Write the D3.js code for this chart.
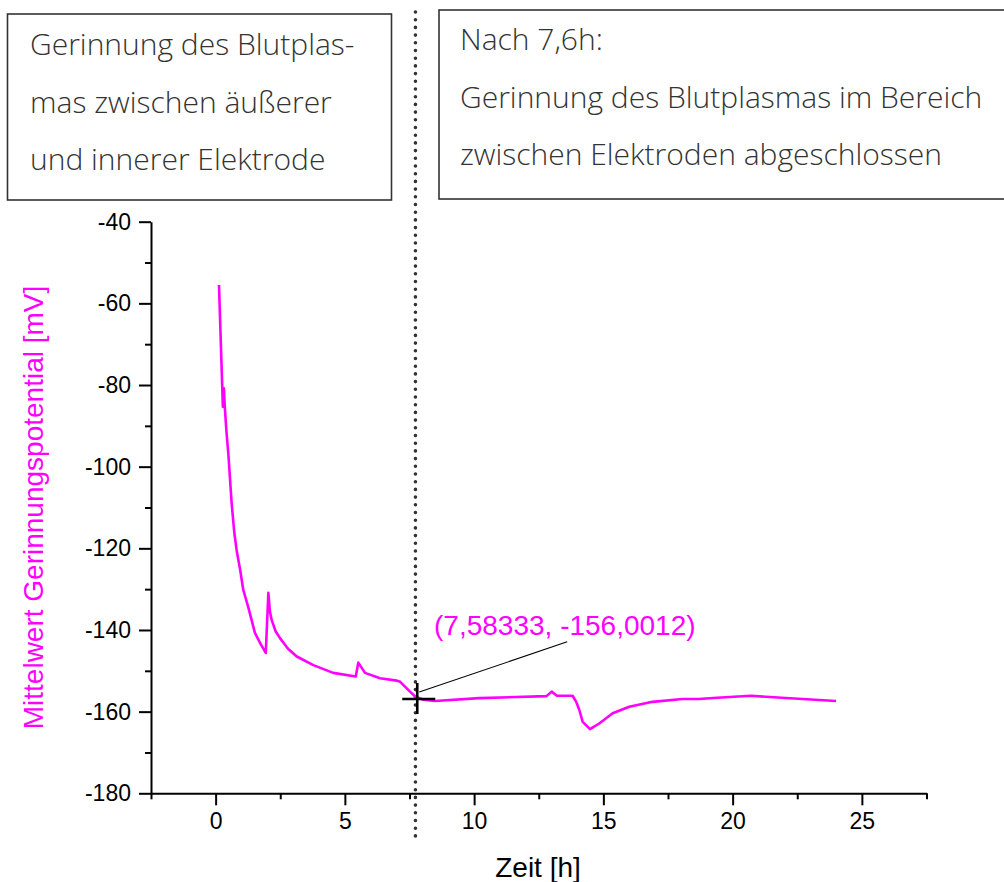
<!DOCTYPE html>
<html>
<head>
<meta charset="utf-8">
<script src="https://cdn.jsdelivr.net/npm/d3@7"></script>
<style>
  body { margin: 0; background: #fff; }
  svg { display: block; }
  .tick text { font-family: "Liberation Sans", Arial, sans-serif; font-size: 23px; fill: #000; }
  .box text { font-family: "Open Sans", "Noto Sans", sans-serif; font-weight: 300; font-size: 30px; fill: #333; }
</style>
</head>
<body>
<script>
// Zeit [h] and Mittelwert Gerinnungspotential [mV]
var zeit = [0.13, 0.28, 0.32, 0.35, 0.42, 0.49, 0.62, 0.72, 0.82, 0.95, 1.07, 1.27, 1.52, 1.75, 1.94, 2.04, 2.1, 2.17, 2.32, 2.49, 2.8,
            3.14, 3.78, 4.55, 5.42, 5.52, 5.78, 6.36, 7.01, 7.14, 7.52, 7.72, 8.04, 8.49,
            10.2, 12.8, 13.0, 13.2, 13.81, 13.95, 14.07, 14.2, 14.48, 14.84, 15.36, 16.0, 16.9,
            18.06, 18.7, 19.4, 20.7, 21.9, 24.0]
var potential = [-55.5, -85.3, -80.8, -85.0, -91.5, -96.7, -109, -116, -120.8, -125.3, -130.2, -134.6, -140.7, -143.5, -145.6, -130.9, -135.5, -137.6, -140.3, -142, -144.6,
                 -146.5, -148.6, -150.5, -151.4, -148, -150.5, -151.8, -152.4, -152.7, -155.1, -156.3, -157.1, -157.4,
                 -156.7, -156.2, -155.1, -156.1, -156.1, -157.6, -159.6, -162.5, -164.3, -162.9, -160.4, -158.8, -157.6,
                 -156.9, -156.9, -156.6, -156.1, -156.6, -157.4]

var xMajor = [0, 5, 10, 15, 20, 25]
var xMinor = [-2.5, 2.5, 7.5, 12.5, 17.5, 22.5, 27.5]
var yMajor = [-180, -160, -140, -120, -100, -80, -60, -40]
var yMinor = [-170, -150, -130, -110, -90, -70, -50]

var cursor = [7.8, -156.9]      // crosshair as drawn
var cursorLabel = '(7,58333, -156,0012)'
var labelPos = [8.45, -141.2]
var leaderEnd = [13.6, -142.9]
var markerLine = 7.73           // dotted line, ~7,6 h

var leftBoxLines = ['Gerinnung des Blutplas-', 'mas zwischen äußerer', 'und innerer Elektrode']
var rightBoxLines = ['Nach 7,6h:', 'Gerinnung des Blutplasmas im Bereich', 'zwischen Elektroden abgeschlossen']

var W = 1004, H = 882
var magenta = '#ff00ff'

var svg = d3.select('body').append('svg')
    .attr('width', W)
    .attr('height', H)

var x = d3.scaleLinear().domain([-2.5, 27.5]).range([151, 926.5])
var y = d3.scaleLinear().domain([-180, -40]).range([793.3, 221.7])

// text boxes
var boxes = [
    {x: 7.5, y: 14, w: 384, h: 186, tx: 30, lines: leftBoxLines, base: 55},
    {x: 439, y: 10, w: 600, h: 189, tx: 460, lines: rightBoxLines, base: 50}
]
var boxG = svg.selectAll('g.box')
    .data(boxes)
    .enter()
    .append('g')
    .attr('class', 'box')
boxG.append('rect')
    .attr('x', function(d) {return d.x;})
    .attr('y', function(d) {return d.y;})
    .attr('width', function(d) {return d.w;})
    .attr('height', function(d) {return d.h;})
    .attr('fill', 'none')
    .attr('stroke', '#333')
    .attr('stroke-width', 1.6)
boxG.each(function(b) {
    d3.select(this).selectAll('text')
	.data(b.lines)
	.enter()
	.append('text')
	.attr('x', b.tx)
	.attr('y', function(d, i) {return b.base + i * 57.5;})
	.text(function(d) {return d;})
})

// dotted vertical line
svg.append('line')
    .attr('x1', x(markerLine))
    .attr('x2', x(markerLine))
    .attr('y1', 12)
    .attr('y2', 842)
    .attr('stroke', '#333')
    .attr('stroke-width', 3.6)
    .attr('stroke-linecap', 'round')
    .attr('stroke-dasharray', '0 7.7')

// axes
var xAxis = svg.append('g')
    .attr('transform', 'translate(0,' + y(-180) + ')')
    .call(d3.axisBottom(x).tickValues(xMajor).tickSize(12).tickSizeOuter(0).tickPadding(7))
var xAxisMinor = svg.append('g')
    .attr('transform', 'translate(0,' + y(-180) + ')')
    .call(d3.axisBottom(x).tickValues(xMinor).tickSize(6).tickSizeOuter(0).tickFormat(''))
var yAxis = svg.append('g')
    .attr('transform', 'translate(' + x(-2.5) + ',0)')
    .call(d3.axisLeft(y).tickValues(yMajor).tickSize(12).tickSizeOuter(0).tickPadding(8))
var yAxisMinor = svg.append('g')
    .attr('transform', 'translate(' + x(-2.5) + ',0)')
    .call(d3.axisLeft(y).tickValues(yMinor).tickSize(6).tickSizeOuter(0).tickFormat(''))

svg.selectAll('.domain, .tick line')
    .attr('stroke', '#000')
    .attr('stroke-width', 2)
xAxisMinor.select('.domain').remove()
yAxisMinor.select('.domain').remove()
yAxis.selectAll('.tick text').text(function(d) {return String(d).replace('−', '-');})

// axis titles
svg.append('text')
    .attr('x', 538)
    .attr('y', 877)
    .attr('text-anchor', 'middle')
    .style('font-family', '"Liberation Sans", Arial, sans-serif')
    .style('font-size', '28px')
    .text('Zeit [h]')
svg.append('text')
    .attr('transform', 'translate(43,' + ((y(-180) + y(-40)) / 2) + ') rotate(-90)')
    .attr('text-anchor', 'middle')
    .style('font-family', '"Liberation Sans", Arial, sans-serif')
    .style('font-size', '28px')
    .attr('fill', magenta)
    .text('Mittelwert Gerinnungspotential [mV]')

// data line
var line = d3.line()
    .x(function(d, i) {return x(zeit[i]);})
    .y(function(d) {return y(d);})
svg.append('path')
    .datum(potential)
    .attr('d', line)
    .attr('fill', 'none')
    .attr('stroke', magenta)
    .attr('stroke-width', 2.6)
    .attr('stroke-linejoin', 'round')

// crosshair + leader + label
var cx = x(cursor[0]), cy = y(cursor[1])
svg.append('line')
    .attr('x1', cx - 15).attr('x2', cx + 18)
    .attr('y1', cy).attr('y2', cy)
    .attr('stroke', '#000').attr('stroke-width', 2.6)
svg.append('line')
    .attr('x1', cx).attr('x2', cx)
    .attr('y1', cy - 16).attr('y2', cy + 15)
    .attr('stroke', '#000').attr('stroke-width', 2.6)
svg.append('line')
    .attr('x1', cx + 2).attr('y1', cy - 7)
    .attr('x2', x(leaderEnd[0])).attr('y2', y(leaderEnd[1]))
    .attr('stroke', '#000').attr('stroke-width', 1.1)
svg.append('text')
    .attr('x', x(labelPos[0]))
    .attr('y', y(labelPos[1]))
    .style('font-family', '"Liberation Sans", Arial, sans-serif')
    .style('font-size', '28px')
    .attr('fill', magenta)
    .text(cursorLabel)
</script>
</body>
</html>
